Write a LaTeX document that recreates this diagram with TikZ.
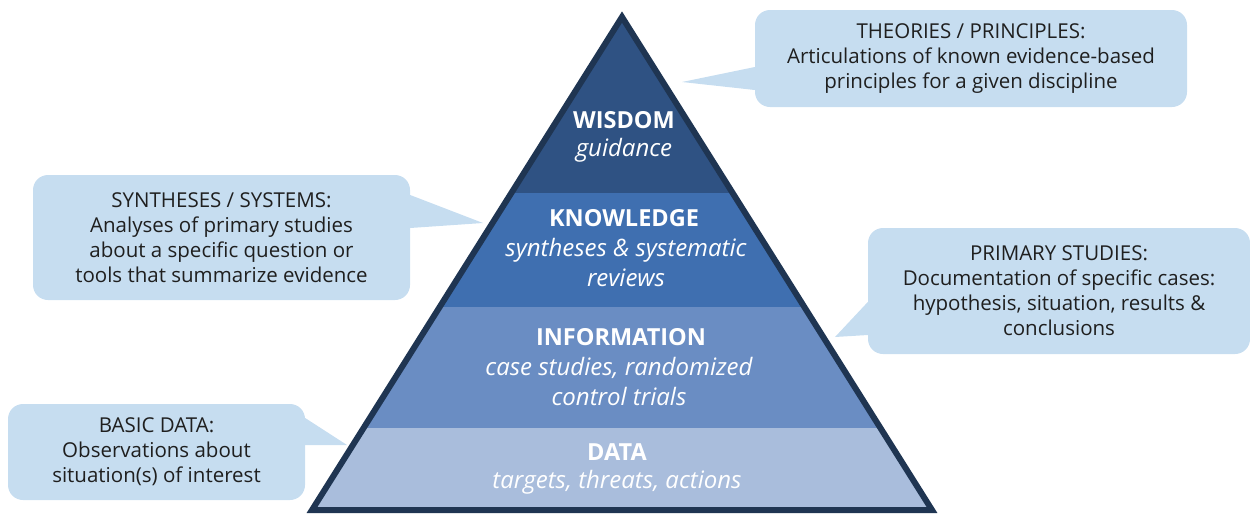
\documentclass[tikz,border=0pt]{standalone}
\usepackage{fontspec}
\setmainfont{Open Sans}
\usepackage{tikz}
\usetikzlibrary{calc,positioning}
\definecolor{pyrEdge}{HTML}{1F3552}
\definecolor{pyrWisdom}{HTML}{2F5283}
\definecolor{pyrKnow}{HTML}{3F6FB0}
\definecolor{pyrInfo}{HTML}{6A8DC3}
\definecolor{pyrData}{HTML}{A9BDDC}
\definecolor{noteFill}{HTML}{C6DDF0}
\tikzset{
 pyr outline/.style={line width=6pt,draw=pyrEdge,line join=miter},
 pyr title/.style={text=white,font=\fontsize{23.5}{27}\selectfont\bfseries},
 pyr sub/.style={text=white,align=center,
                 font=\fontsize{24}{29.5}\selectfont\itshape},
 note box/.style={fill=noteFill,rounded corners=15pt,align=center,
                  text=black!88,inner sep=0pt,
                  font=\fontsize{20.5}{25}\selectfont},
 note tip/.style={fill=noteFill}
}

\begin{document}
\begin{tikzpicture}[x=1pt,y=-1pt]
 \useasboundingbox (0,0) rectangle (1250,515);
 \coordinate (apex) at (622,17);
 \coordinate (baseL) at (312,510);
 \coordinate (baseR) at (932,510);

 % bands
 \begin{scope}
  \clip (apex) -- (baseL) -- (baseR) -- cycle;
  \fill[pyrWisdom] (300,0) rectangle (950,193);
  \fill[pyrKnow] (300,193) rectangle (950,307);
  \fill[pyrInfo] (300,307) rectangle (950,428);
  \fill[pyrData] (300,428) rectangle (950,515);
 \end{scope}
 \draw[pyr outline] (apex) -- (baseL) -- (baseR) -- cycle;

 % band labels
 \node[pyr title] (wis) at (624,120) {WISDOM};
 \node[pyr sub] (wisSub) at (624,150) {guidance};
 \node[pyr title] (know) at (624,218) {KNOWLEDGE};
 \node[pyr sub] (knowSub) at (626,262.5) {syntheses \& systematic\\reviews};
 \node[pyr title] (info) at (621,337) {INFORMATION};
 \node[pyr sub] (infoSub) at (619,381.5) {case studies, randomized\\control trials};
 \node[pyr title] (dat) at (617,452) {DATA};
 \node[pyr sub] (datSub) at (617,482) {targets, threats, actions};

 % callouts
 \node[note box,minimum width=432pt,minimum height=97pt] (theo) at (971,58.5)
   {THEORIES / PRINCIPLES:\\Articulations of known evidence-based\\principles for a given discipline};
 \node[note box,minimum width=377pt,minimum height=125pt] (synt) at (221.5,237.5)
   {SYNTHESES / SYSTEMS:\\Analyses of primary studies\\about a specific question or\\tools that summarize evidence};
 \node[note box,minimum width=382pt,minimum height=126pt] (prim) at (1059,291)
   {PRIMARY STUDIES:\\Documentation of specific cases:\\hypothesis, situation, results \&\\conclusions};
 \node[note box,minimum width=297pt,minimum height=96pt] (basic) at (156.5,452)
   {BASIC DATA:\\Observations about\\situation(s) of interest};

 \coordinate (theoTip) at (682,82);
 \coordinate (syntTip) at (483,223);
 \coordinate (primTip) at (835,337);
 \coordinate (basicTip) at (347,445);
 \fill[note tip] (theo.west |- 0,67) -- (theoTip) -- (theo.west |- 0,90)
   -- ++(8,0) -- ++(0,-23) -- cycle;
 \fill[note tip] (synt.east |- 0,195) -- (syntTip) -- (synt.east |- 0,228)
   -- ++(-8,0) -- ++(0,-33) -- cycle;
 \fill[note tip] (prim.west |- 0,302) -- (primTip) -- (prim.west |- 0,335)
   -- ++(8,0) -- ++(0,-33) -- cycle;
 \fill[note tip] (basic.east |- 0,418) -- (basicTip) -- (basic.east |- 0,445)
   -- ++(-8,0) -- ++(0,-27) -- cycle;
\end{tikzpicture}
\end{document}
